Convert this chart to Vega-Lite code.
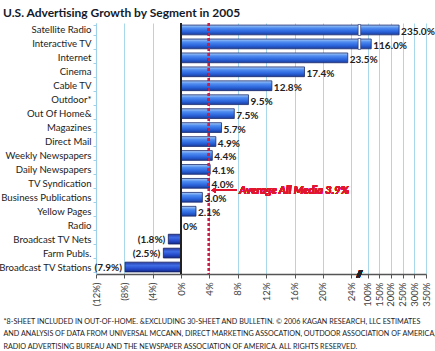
{
  "$schema": "https://vega.github.io/schema/vega-lite/v6.json",
  "width": 330,
  "height": 251,
  "autosize": {"type": "none"},
  "padding": {"left": 96, "top": 23, "right": 9, "bottom": 77},
  "background": "white",
  "config": {"view": {"stroke": null}, "font": "Lato", "axis": {"labelOverlap": false}},
  "title": {
    "text": "U.S. Advertising Growth by Segment in 2005",
    "anchor": "start",
    "frame": "group",
    "orient": "top",
    "dx": -93,
    "dy": 8,
    "offset": 6,
    "font": "Lato",
    "fontSize": 12,
    "fontWeight": "bold",
    "color": "#151a2a"
  },
  "data": {
    "values": [
      {"segment": "Satellite Radio", "value": 235.0, "label": "235.0%"},
      {"segment": "Interactive TV", "value": 116.0, "label": "116.0%"},
      {"segment": "Internet", "value": 23.5, "label": "23.5%"},
      {"segment": "Cinema", "value": 17.4, "label": "17.4%"},
      {"segment": "Cable TV", "value": 12.8, "label": "12.8%"},
      {"segment": "Outdoor*", "value": 9.5, "label": "9.5%"},
      {"segment": "Out Of Home&", "value": 7.5, "label": "7.5%"},
      {"segment": "Magazines", "value": 5.7, "label": "5.7%"},
      {"segment": "Direct Mail", "value": 4.9, "label": "4.9%"},
      {"segment": "Weekly Newspapers", "value": 4.4, "label": "4.4%"},
      {"segment": "Daily Newspapers", "value": 4.1, "label": "4.1%"},
      {"segment": "TV Syndication", "value": 4.0, "label": "4.0%"},
      {"segment": "Business Publications", "value": 3.0, "label": "3.0%"},
      {"segment": "Yellow Pages", "value": 2.1, "label": "2.1%"},
      {"segment": "Radio", "value": 0, "label": "0%"},
      {"segment": "Broadcast TV Nets", "value": -1.8, "label": "(1.8%)"},
      {"segment": "Farm Publs.", "value": -2.5, "label": "(2.5%)"},
      {"segment": "Broadcast TV Stations", "value": -7.9, "label": "(7.9%)"}
    ]
  },
  "layer": [
    {
      "transform": [{"filter": "datum.value > 0"}],
      "mark": {
        "type": "bar",
        "fill": {"gradient": "linear", "x1": 0, "y1": 0, "x2": 0, "y2": 1,
          "stops": [
            {"offset": 0, "color": "#a9cdf7"},
            {"offset": 0.3, "color": "#4f8cf0"},
            {"offset": 0.65, "color": "#2c66de"},
            {"offset": 1, "color": "#1a3d9e"}
          ]},
        "stroke": "#1b2c6e",
        "strokeWidth": 0.8
      },
      "encoding": {
        "y": {
          "field": "segment", "type": "nominal", "sort": null,
          "scale": {
            "domain": ["Satellite Radio", "Interactive TV", "Internet", "Cinema", "Cable TV", "Outdoor*", "Out Of Home&", "Magazines", "Direct Mail", "Weekly Newspapers", "Daily Newspapers", "TV Syndication", "Business Publications", "Yellow Pages", "Radio", "Broadcast TV Nets", "Farm Publs.", "Broadcast TV Stations"],
            "paddingInner": 0.3, "paddingOuter": 0.15
          },
          "axis": {
            "title": null,
            "domainColor": "#9fd0e8",
            "domainWidth": 1.2,
            "tickColor": "#9fd0e8",
            "tickSize": 3,
            "tickBand": "extent",
            "labelFont": "Lato",
            "labelFontSize": 9.6,
            "labelColor": "#222222",
            "labelPadding": 2
          }
        },
        "x": {
          "field": "value", "type": "quantitative",
          "scale": {"domain": [-12, 24, 100, 350], "range": [0, 255.3, 271.5, 330], "nice": false, "zero": false},
          "axis": {
            "title": [
              "*8-SHEET INCLUDED IN OUT-OF-HOME.  \u0026EXCLUDING 30-SHEET AND BULLETIN.  \u00a9 2006 KAGAN RESEARCH, LLC ESTIMATES",
              "AND ANALYSIS OF DATA FROM UNIVERSAL MCCANN, DIRECT MARKETING ASSOCATION, OUTDOOR ASSOCIATION OF AMERICA,",
              "RADIO ADVERTISING BUREAU AND THE NEWSPAPER ASSOCIATION OF AMERICA.  ALL RIGHTS RESERVED."
            ],
            "titleFont": "Lato",
            "titleFontSize": 7.2,
            "titleFontWeight": "normal",
            "titleColor": "#222222",
            "titleAnchor": "start",
            "titleAlign": "left",
            "titleX": -93,
            "titleY": 47,
            "titleBaseline": "middle",
            "titleLineHeight": 12.8,
            "values": [-12, -8, -4, 0, 4, 8, 12, 16, 20, 24, 100, 150, 200, 250, 300, 350],
            "tickCount": 40,
            "labelExpr": "datum.value < 0 ? '(' + (-datum.value) + '%)' : datum.value + '%'",
            "labelAngle": -90,
            "labelFont": "Lato",
            "labelFontSize": 9.5,
            "labelColor": "#444444",
            "labelPadding": 4,
            "labelOverlap": false,
            "labelBound": false,
            "domainColor": "#555555",
            "domainWidth": 1.5,
            "tickColor": "#555555",
            "tickSize": 4,
            "grid": true,
            "gridColor": "#a8d8ea",
            "gridWidth": 1
          }
        }
      }
    },
    {
      "transform": [{"filter": "datum.value < 0"}],
      "mark": {
        "type": "bar",
        "fill": {"gradient": "linear", "x1": 0, "y1": 0, "x2": 0, "y2": 1,
          "stops": [
            {"offset": 0, "color": "#2a3fa8"},
            {"offset": 0.35, "color": "#3f6de6"},
            {"offset": 0.7, "color": "#2448c8"},
            {"offset": 1, "color": "#152a88"}
          ]},
        "stroke": "#14205e",
        "strokeWidth": 0.8
      },
      "encoding": {
        "y": {"field": "segment", "type": "nominal", "sort": null},
        "x": {"field": "value", "type": "quantitative"}
      }
    },
    {
      "transform": [{"filter": "datum.value > 100"}],
      "mark": {"type": "tick", "orient": "vertical", "color": "white", "thickness": 2.5, "stroke": "#1b2c6e", "strokeWidth": 0.6, "opacity": 1},
      "encoding": {
        "y": {"field": "segment", "type": "nominal", "sort": null},
        "x": {"datum": 62, "type": "quantitative"},
        "size": {"value": 11}
      }
    },
    {
      "mark": {"type": "rule", "color": "#222222", "strokeWidth": 1.5},
      "encoding": {"x": {"datum": 0, "type": "quantitative"}}
    },
    {
      "mark": {"type": "rule", "color": "#c8204a", "strokeWidth": 1.6, "strokeDash": [3, 2], "opacity": 0.85},
      "encoding": {"x": {"datum": 3.9, "type": "quantitative"}}
    },
    {
      "transform": [{"filter": "datum.value >= 0"}],
      "mark": {"type": "text", "align": "left", "baseline": "middle", "dx": 2, "dy": 2, "font": "Lato", "fontSize": 10, "fontWeight": "bold", "color": "#222222"},
      "encoding": {
        "y": {"field": "segment", "type": "nominal", "sort": null},
        "x": {"field": "value", "type": "quantitative"},
        "text": {"field": "label"}
      }
    },
    {
      "transform": [{"filter": "datum.value < 0"}],
      "mark": {"type": "text", "align": "right", "baseline": "middle", "dx": -3, "dy": 1, "font": "Lato", "fontSize": 10, "fontWeight": "bold", "color": "#222222"},
      "encoding": {
        "y": {"field": "segment", "type": "nominal", "sort": null},
        "x": {"field": "value", "type": "quantitative"},
        "text": {"field": "label"}
      }
    },
    {
      "mark": {"type": "text", "align": "left", "baseline": "middle", "dy": 3, "font": "Lato", "fontSize": 11, "fontWeight": "bold", "fontStyle": "italic", "color": "#e2152e"},
      "encoding": {
        "y": {"datum": "TV Syndication", "type": "nominal", "bandPosition": 1},
        "x": {"datum": 8.2, "type": "quantitative"},
        "text": {"value": "Average All Media 3.9%"}
      }
    },
    {
      "mark": {"type": "rule", "color": "#e2152e", "strokeWidth": 1.5, "yOffset": 2},
      "encoding": {
        "y": {"datum": "TV Syndication", "type": "nominal", "bandPosition": 1},
        "x": {"datum": 4.6, "type": "quantitative"},
        "x2": {"datum": 7.8}
      }
    },
    {
      "mark": {"type": "point", "shape": "triangle-left", "filled": true, "color": "#e2152e", "size": 28, "opacity": 1, "yOffset": 2},
      "encoding": {
        "y": {"datum": "TV Syndication", "type": "nominal", "bandPosition": 1},
        "x": {"datum": 4.6, "type": "quantitative"}
      }
    },
    {
      "mark": {"type": "text", "align": "center", "baseline": "middle", "dy": 7, "font": "Lato", "fontSize": 10, "fontWeight": "bold", "color": "#222222"},
      "encoding": {
        "y": {"datum": "Broadcast TV Stations", "type": "nominal"},
        "x": {"datum": 62, "type": "quantitative"},
        "text": {"value": "//"}
      }
    }
  ]
}
